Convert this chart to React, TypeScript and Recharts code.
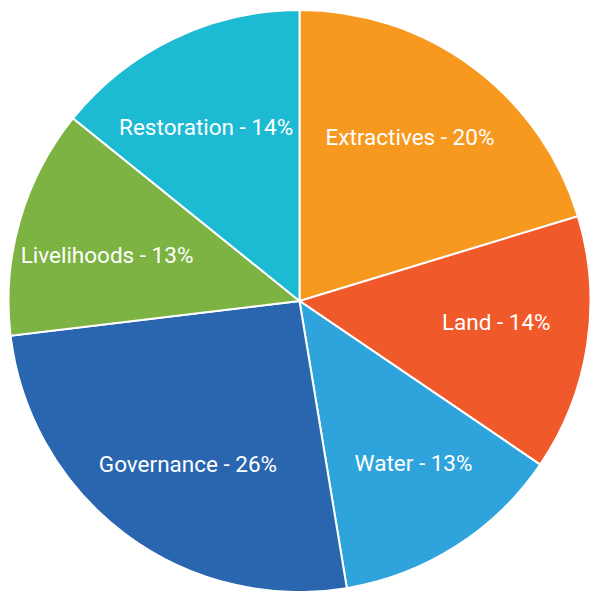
import React from "react";
import { PieChart, Pie, Cell } from "recharts";

const categories = ["Extractives", "Land", "Water", "Governance", "Livelihoods", "Restoration"];
const values = [20.3, 14.2, 12.9, 25.7, 12.7, 14.2];
const colors = ["#F7981F", "#F0592A", "#2FA3DC", "#2A66B0", "#7CB342", "#1CBAD3"];

const data = categories.map((name, i) => ({ name, value: values[i] }));

const RAD = Math.PI / 180;

const renderLabel = (props: any) => {
  const { cx, cy, midAngle, outerRadius, percent, name } = props;
  const r = outerRadius * 0.68;
  const a = midAngle + 2.6;
  const x = cx + r * Math.cos(-a * RAD);
  const y = cy + r * Math.sin(-a * RAD);
  return (
    <text
      x={x}
      y={y}
      fill="#ffffff"
      textAnchor="middle"
      dominantBaseline="central"
      fontFamily="Roboto, sans-serif"
      fontSize={22.5}
    >
      {`${name} - ${Math.round(percent * 100)}%`}
    </text>
  );
};

export default function App() {
  return (
    <div style={{ width: 590, height: 591, position: "relative" }}>
      <style>{`html,body{margin:0;padding:0;overflow:hidden;background:#fff;}`}</style>
      <PieChart width={590} height={591} margin={{ top: 0, right: 0, bottom: 0, left: 0 }}>
        <Pie
          data={data}
          dataKey="value"
          nameKey="name"
          cx={299.5}
          cy={301}
          outerRadius={291}
          startAngle={90}
          endAngle={-270}
          stroke="#ffffff"
          strokeWidth={2}
          label={renderLabel}
          labelLine={false}
          isAnimationActive={false}
        >
          {data.map((d, i) => (
            <Cell key={d.name} fill={colors[i]} />
          ))}
        </Pie>
      </PieChart>
    </div>
  );
}
